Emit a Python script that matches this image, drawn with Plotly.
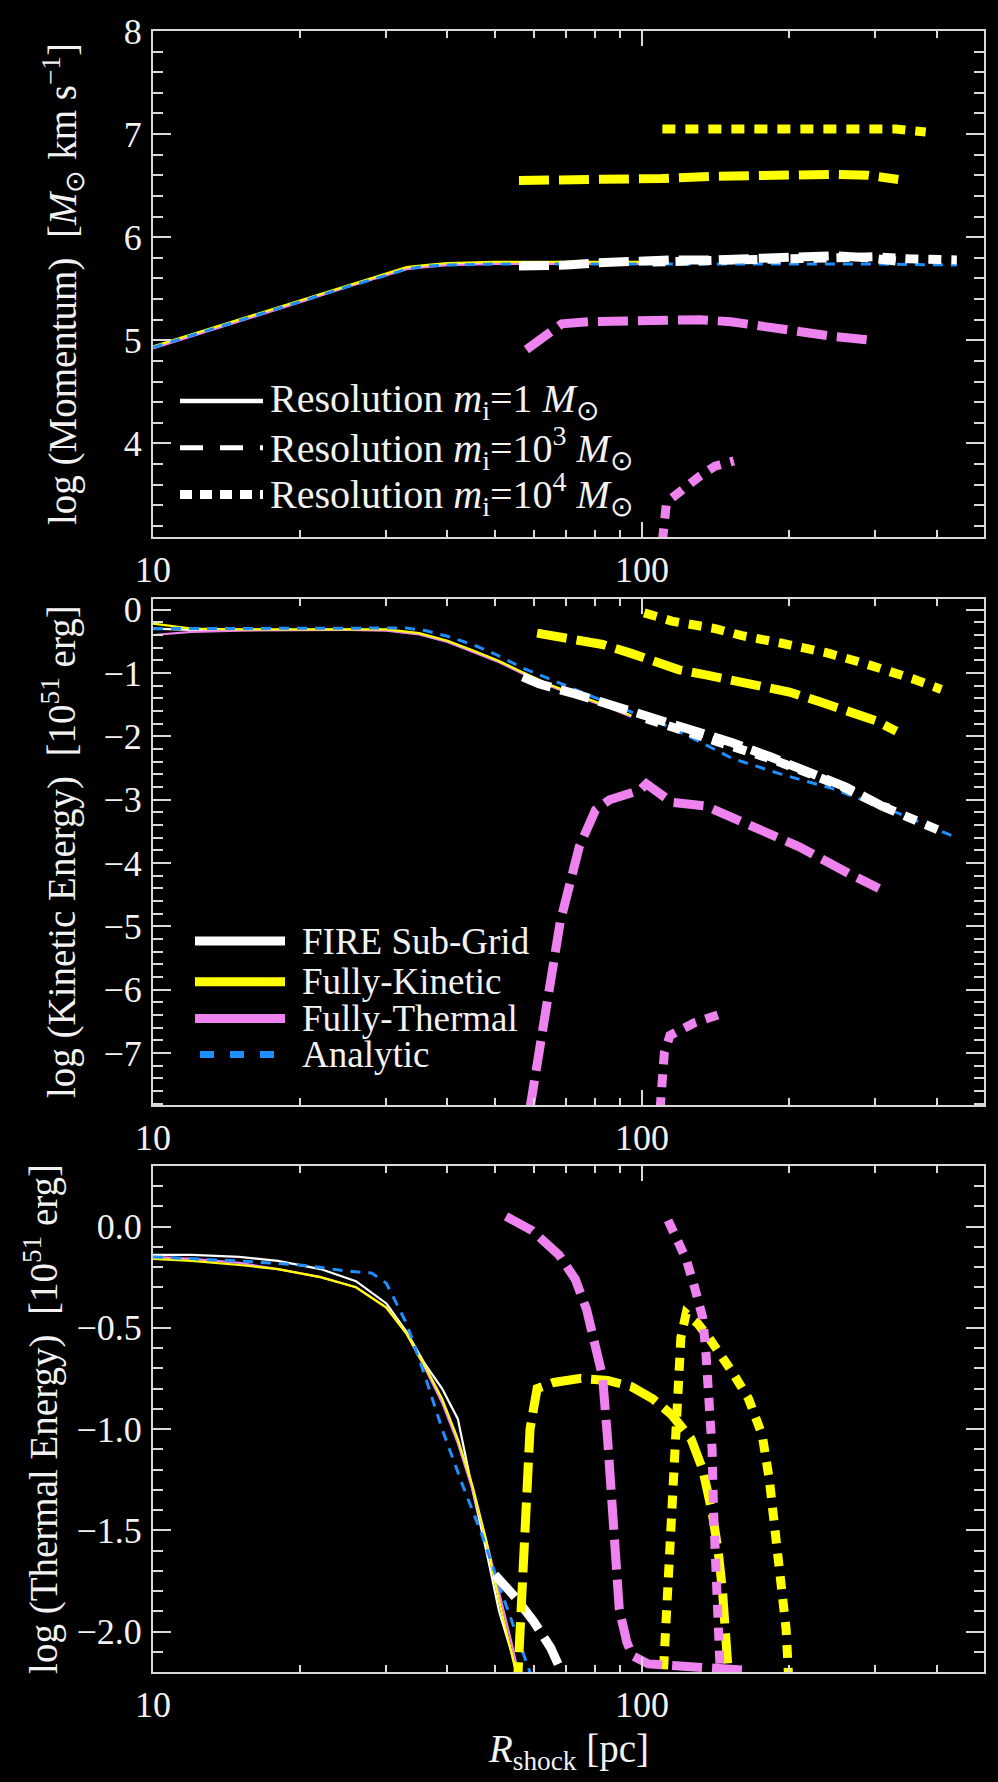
import math
import plotly.graph_objects as go

# ---------------- data: shock radius [pc] and log quantities ----------------
# Momentum panel  (log M_sun km/s)
mom_r_1 = [10, 15, 20, 25, 30, 33, 36, 40, 50, 60, 70, 85, 100]
mom_fire_1 = [4.93, 5.19, 5.38, 5.52, 5.64, 5.70, 5.72, 5.74, 5.75, 5.75, 5.75, 5.75, 5.75]
mom_kin_1 = [4.94, 5.20, 5.39, 5.53, 5.65, 5.71, 5.73, 5.75, 5.76, 5.76, 5.76, 5.76, 5.76]
mom_th_1 = [4.92, 5.18, 5.37, 5.52, 5.63, 5.69, 5.71, 5.73, 5.74, 5.74, 5.74, 5.74, 5.74]
mom_r_an = [10, 15, 20, 25, 30, 33, 36, 40, 50, 70, 100, 150, 200, 300, 440]
mom_an = [4.93, 5.19, 5.38, 5.52, 5.63, 5.69, 5.72, 5.73, 5.74, 5.74, 5.74, 5.74, 5.74, 5.74, 5.73]
mom_r_fire_3 = [56, 62, 70, 80, 95, 115, 140, 170, 210, 250, 290, 330]
mom_fire_3 = [5.72, 5.72, 5.73, 5.75, 5.77, 5.78, 5.78, 5.79, 5.81, 5.82, 5.80, 5.77]
mom_r_fire_4 = [105, 130, 160, 200, 250, 300, 350, 400, 440]
mom_fire_4 = [5.76, 5.77, 5.78, 5.79, 5.80, 5.81, 5.79, 5.79, 5.78]
mom_r_kin_3 = [56, 70, 90, 110, 140, 170, 210, 250, 290, 334]
mom_kin_3 = [6.55, 6.55, 6.56, 6.57, 6.59, 6.60, 6.61, 6.61, 6.60, 6.56]
mom_r_kin_4 = [110, 140, 180, 230, 280, 330, 380]
mom_kin_4 = [7.05, 7.05, 7.06, 7.06, 7.06, 7.05, 7.02]
mom_r_th_3 = [58, 62, 65, 68.5, 78, 100, 131, 152, 193, 244, 295]
mom_th_3 = [4.91, 5.00, 5.08, 5.16, 5.18, 5.19, 5.20, 5.18, 5.10, 5.04, 5.00]
mom_r_th_4 = [110, 112, 115, 119, 125, 131, 141, 154]
mom_th_4 = [3.05, 3.40, 3.47, 3.53, 3.60, 3.68, 3.78, 3.83]

# Kinetic-energy panel  (log 1e51 erg)
ke_r_1 = [10, 12, 15, 20, 25, 30, 35, 40, 45, 51, 57, 65, 75, 85, 95]
ke_fire_1 = [-0.30, -0.32, -0.32, -0.32, -0.32, -0.32, -0.38, -0.50, -0.65, -0.82, -1.00, -1.20, -1.38, -1.53, -1.68]
ke_kin_1 = [-0.22, -0.30, -0.31, -0.31, -0.31, -0.31, -0.37, -0.49, -0.64, -0.81, -0.99, -1.19, -1.37, -1.52, -1.67]
ke_th_1 = [-0.40, -0.35, -0.33, -0.32, -0.32, -0.33, -0.39, -0.51, -0.66, -0.83, -1.01, -1.21, -1.39, -1.54, -1.69]
ke_r_an = [10, 15, 20, 25, 30, 33, 36, 40, 45, 50, 57, 65, 75, 85, 100, 112, 130, 153, 193, 244, 331, 440]
ke_an = [-0.30, -0.30, -0.30, -0.30, -0.29, -0.29, -0.33, -0.42, -0.55, -0.70, -0.92, -1.10, -1.30, -1.47,
         -1.68, -1.83, -2.07, -2.35, -2.60, -2.82, -3.20, -3.60]
ke_r_fire_3 = [57, 61.5, 73, 86, 102, 123, 153, 184, 222, 261, 309, 331]
ke_fire_3 = [-1.06, -1.17, -1.33, -1.50, -1.68, -1.88, -2.10, -2.33, -2.57, -2.80, -3.10, -3.16]
ke_r_fire_4 = [102, 123, 153, 184, 222, 261, 309, 354, 410]
ke_fire_4 = [-1.72, -1.92, -2.13, -2.36, -2.60, -2.82, -3.10, -3.30, -3.50]
ke_r_kin_3 = [61, 73, 83, 95, 107, 119, 135, 155, 175, 200, 230, 260, 300, 331]
ke_kin_3 = [-0.37, -0.47, -0.55, -0.69, -0.84, -0.95, -1.03, -1.12, -1.20, -1.30, -1.45, -1.60, -1.75, -1.92]
ke_r_kin_4 = [101, 115, 141, 160, 193, 238, 285, 330, 360, 409]
ke_kin_4 = [-0.05, -0.18, -0.30, -0.41, -0.53, -0.68, -0.85, -1.00, -1.10, -1.26]
ke_r_th_3 = [58.9, 62.6, 68, 74.4, 80.3, 85.8, 99, 102, 115, 135, 165, 209, 264, 305]
ke_th_3 = [-7.9, -6.58, -4.93, -3.74, -3.16, -3.00, -2.85, -2.75, -3.04, -3.10, -3.38, -3.74, -4.16, -4.40]
ke_r_th_4 = [108.8, 111, 114, 128, 145]
ke_th_4 = [-7.9, -7.0, -6.72, -6.52, -6.38]

# Thermal-energy panel  (log 1e51 erg)
te_r_1 = [10, 12, 15, 18, 22, 26, 30, 33, 36, 39, 42, 45, 48, 51, 54, 57]
te_fire_1 = [-0.14, -0.14, -0.15, -0.17, -0.21, -0.27, -0.38, -0.52, -0.68, -0.80, -0.95, -1.30, -1.60, -1.90, -2.10, -2.30]
te_kin_1 = [-0.16, -0.17, -0.19, -0.21, -0.25, -0.30, -0.40, -0.53, -0.69, -0.85, -1.05, -1.28, -1.55, -1.85, -2.10, -2.35]
te_th_1 = [-0.15, -0.16, -0.18, -0.21, -0.25, -0.30, -0.40, -0.53, -0.70, -0.87, -1.07, -1.30, -1.55, -1.80, -2.05, -2.30]
te_r_an = [10, 15, 20, 25, 28, 30, 33, 36, 39, 43, 47, 52, 57, 61]
te_an = [-0.15, -0.17, -0.19, -0.22, -0.23, -0.28, -0.48, -0.74, -1.00, -1.28, -1.52, -1.83, -2.10, -2.30]
te_r_fire_3 = [50, 55, 60, 65, 70]
te_fire_3 = [-1.72, -1.83, -1.95, -2.08, -2.25]
te_r_kin_3 = [55.5, 57.5, 59, 61, 66, 75, 85, 95, 105, 115, 126, 133, 139, 143, 146, 151]
te_kin_3 = [-2.30, -1.60, -1.00, -0.80, -0.77, -0.75, -0.76, -0.79, -0.85, -0.93, -1.05, -1.20, -1.41, -1.60, -1.80, -2.30]
te_r_kin_4 = [110, 112, 114, 116, 118, 120, 123, 130, 137, 145, 153, 165, 176, 182, 187, 192, 197, 200]
te_kin_4 = [-2.30, -1.90, -1.60, -1.25, -0.90, -0.55, -0.43, -0.48, -0.55, -0.63, -0.72, -0.85, -1.03, -1.25,
            -1.51, -1.75, -1.99, -2.30]
te_r_th_3 = [52.7, 59.6, 67.6, 73, 77, 80, 83, 85, 87, 89.8, 93, 95.5, 103, 120, 140, 160]
te_th_3 = [0.05, -0.02, -0.14, -0.26, -0.41, -0.56, -0.74, -1.05, -1.41, -1.89, -2.05, -2.12, -2.16, -2.17, -2.18, -2.19]
te_r_th_4 = [113, 118, 123, 128, 133, 135, 137, 139, 140, 142, 143, 145]
te_th_4 = [0.03, -0.06, -0.16, -0.30, -0.45, -0.62, -0.84, -1.10, -1.41, -1.89, -2.05, -2.30]

# axis settings
y_ranges = [[3.09, 8.0], [-7.82, 0.17], [-2.2, 0.3]]
y_major = [[4, 5, 6, 7, 8], [0, -1, -2, -3, -4, -5, -6, -7], [0.0, -0.5, -1.0, -1.5, -2.0]]
y_minor_step = [0.2, 0.2, 0.1]
y_titles = ["log (Momentum)  [<i>M</i><sub>⊙</sub> km s<sup>−1</sup>]",
            "log (Kinetic Energy)  [10<sup>51</sup> erg]",
            "log (Thermal Energy)  [10<sup>51</sup> erg]"]
x_major = [10, 100]
x_minor = [20, 30, 40, 50, 60, 70, 80, 90, 200, 300, 400]

# ---------------- styling ----------------
WHITE, YELLOW, VIOLET, BLUE = "#ffffff", "#ffff00", "#ee82ee", "#1e8fff"
AXC = "#d9d9d9"
TXT = "#f2f2f2"
FONT = "Liberation Serif, Times New Roman, serif"
FS_TICK, FS_TITLE, FS_RES, FS_MOD = 36, 39, 40, 37

W, H = 998, 1782
panel_px = [(22, 531), (593, 1102), (1163, 1672)]
ML, MR, MT = 153, 14, panel_px[0][0]
MB = H - panel_px[2][1]
PW, PH = W - ML - MR, H - MT - MB


def ypaper(py):
    return (H - MB - py) / PH


def xpaper(px):
    return (px - ML) / PW


fig = go.Figure()

thin = 2.2
thick = 9
dash3 = "30px,10px"
dot4 = "13px,10px"
an_dash = "10px,8px"


def add(r, v, panel, color, width, dash="solid"):
    sfx = "" if panel == 1 else str(panel)
    fig.add_trace(go.Scatter(x=r, y=v, mode="lines", xaxis="x" + sfx, yaxis="y" + sfx,
                             line=dict(color=color, width=width, dash=dash),
                             showlegend=False, hoverinfo="skip"))


# Momentum
add(mom_r_1, mom_fire_1, 1, WHITE, thin)
add(mom_r_1, mom_th_1, 1, VIOLET, thin)
add(mom_r_1, mom_kin_1, 1, YELLOW, thin)
add(mom_r_an, mom_an, 1, BLUE, 3, an_dash)
add(mom_r_fire_3, mom_fire_3, 1, WHITE, thick, dash3)
add(mom_r_fire_4, mom_fire_4, 1, WHITE, thick, dot4)
add(mom_r_kin_3, mom_kin_3, 1, YELLOW, thick, dash3)
add(mom_r_kin_4, mom_kin_4, 1, YELLOW, thick, dot4)
add(mom_r_th_3, mom_th_3, 1, VIOLET, thick, dash3)
add(mom_r_th_4, mom_th_4, 1, VIOLET, thick, dot4)

# Kinetic energy
add(ke_r_1, ke_fire_1, 2, WHITE, thin)
add(ke_r_1, ke_th_1, 2, VIOLET, thin)
add(ke_r_1, ke_kin_1, 2, YELLOW, thin)
add(ke_r_an, ke_an, 2, BLUE, 3, an_dash)
add(ke_r_fire_3, ke_fire_3, 2, WHITE, thick, dash3)
add(ke_r_fire_4, ke_fire_4, 2, WHITE, thick, dot4)
add(ke_r_kin_3, ke_kin_3, 2, YELLOW, thick, dash3)
add(ke_r_kin_4, ke_kin_4, 2, YELLOW, thick, dot4)
add(ke_r_th_3, ke_th_3, 2, VIOLET, thick, dash3)
add(ke_r_th_4, ke_th_4, 2, VIOLET, thick, dot4)

# Thermal energy
add(te_r_1, te_fire_1, 3, WHITE, thin)
add(te_r_1, te_th_1, 3, VIOLET, thin)
add(te_r_1, te_kin_1, 3, YELLOW, thin)
add(te_r_an, te_an, 3, BLUE, 3, an_dash)
add(te_r_fire_3, te_fire_3, 3, WHITE, thick, dash3)
add(te_r_kin_3, te_kin_3, 3, YELLOW, thick, dash3)
add(te_r_kin_4, te_kin_4, 3, YELLOW, thick, dot4)
add(te_r_th_3, te_th_3, 3, VIOLET, thick, dash3)
add(te_r_th_4, te_th_4, 3, VIOLET, thick, dot4)

layout = dict(
    width=W, height=H,
    margin=dict(l=ML, r=MR, t=MT, b=MB, pad=0),
    paper_bgcolor="black", plot_bgcolor="black",
    font=dict(family=FONT, size=FS_TICK, color=TXT),
    showlegend=False,
)

for i in range(3):
    sfx = "" if i == 0 else str(i + 1)
    layout["xaxis" + sfx] = dict(
        type="log", range=[1, math.log10(500)], anchor="y" + sfx,
        showline=True, linecolor=AXC, linewidth=2, mirror="allticks",
        ticks="inside", ticklen=15, tickwidth=2, tickcolor=AXC,
        tickvals=x_major, ticktext=[str(v) for v in x_major],
        tickfont=dict(family=FONT, size=FS_TICK, color=TXT),
        showgrid=False, zeroline=False,
        minor=dict(tickvals=x_minor, ticklen=7, tickwidth=2, tickcolor=AXC, ticks="inside", showgrid=False),
    )
    top, bot = panel_px[i]
    lo, hi = y_ranges[i]
    step = y_minor_step[i]
    kmin, kmax = int(math.floor(lo / step)), int(math.ceil(hi / step))
    minor_vals = [round(k * step, 3) for k in range(kmin, kmax + 1)]
    layout["yaxis" + sfx] = dict(
        range=[lo, hi], domain=[ypaper(bot), ypaper(top)], anchor="x" + sfx,
        showline=True, linecolor=AXC, linewidth=2, mirror="allticks",
        ticks="inside", ticklen=18, tickwidth=2, tickcolor=AXC,
        tickvals=y_major[i], tickformat=".1f" if i == 2 else "d",
        tickfont=dict(family=FONT, size=FS_TICK, color=TXT),
        ticklabelstandoff=2,
        showgrid=False, zeroline=False,
        minor=dict(tickvals=minor_vals, ticklen=10, tickwidth=2, tickcolor=AXC, ticks="inside", showgrid=False),
    )

fig.update_layout(**layout)

# y-axis titles
title_x = [63, 60, 42]
for i in range(3):
    top, bot = panel_px[i]
    fig.add_annotation(text=y_titles[i], xref="paper", yref="paper",
                       x=xpaper(title_x[i]), y=ypaper((top + bot) / 2),
                       xanchor="center", yanchor="middle", textangle=-90,
                       showarrow=False, font=dict(family=FONT, size=FS_TITLE, color=TXT))

# x-axis title
fig.add_annotation(text="<i>R</i><sub>shock</sub> [pc]", xref="paper", yref="paper",
                   x=0.5, y=ypaper(1752), xanchor="center", yanchor="middle",
                   showarrow=False, font=dict(family=FONT, size=FS_TITLE, color=TXT))

# resolution key (top panel)
res_rows = [394, 441, 488]
res_text = ["Resolution <i>m</i><sub>i</sub>=1 <i>M</i><sub>⊙</sub>",
            "Resolution <i>m</i><sub>i</sub>=10<sup>3</sup> <i>M</i><sub>⊙</sub>",
            "Resolution <i>m</i><sub>i</sub>=10<sup>4</sup> <i>M</i><sub>⊙</sub>"]
res_style = [(4.5, "solid"), (5, "23px,17px"), (9, "12px,8px")]
for py, txt, (w, d) in zip(res_rows, res_text, res_style):
    fig.add_shape(type="line", xref="paper", yref="paper",
                  x0=xpaper(180), x1=xpaper(263), y0=ypaper(py), y1=ypaper(py),
                  line=dict(color=WHITE, width=w, dash=d))
    fig.add_annotation(text=txt, xref="paper", yref="paper", x=xpaper(268), y=ypaper(py),
                       xanchor="left", yanchor="middle", showarrow=False,
                       font=dict(family=FONT, size=FS_RES, color=TXT))

# model key (middle panel)
mod_rows = [937, 978, 1015, 1051]
mod_text = ["FIRE Sub-Grid", "Fully-Kinetic", "Fully-Thermal", "Analytic"]
mod_style = [(WHITE, 9, "solid", 195, 285), (YELLOW, 9, "solid", 195, 285),
             (VIOLET, 9, "solid", 195, 285), (BLUE, 7, "14px,16px", 200, 278)]
for py, txt, (c, w, d, x0, x1) in zip(mod_rows, mod_text, mod_style):
    fig.add_shape(type="line", xref="paper", yref="paper",
                  x0=xpaper(x0), x1=xpaper(x1), y0=ypaper(py), y1=ypaper(py),
                  line=dict(color=c, width=w, dash=d))
    fig.add_annotation(text=txt, xref="paper", yref="paper", x=xpaper(300), y=ypaper(py),
                       xanchor="left", yanchor="middle", showarrow=False,
                       font=dict(family=FONT, size=FS_MOD, color=TXT))

fig.write_html("out.html")
